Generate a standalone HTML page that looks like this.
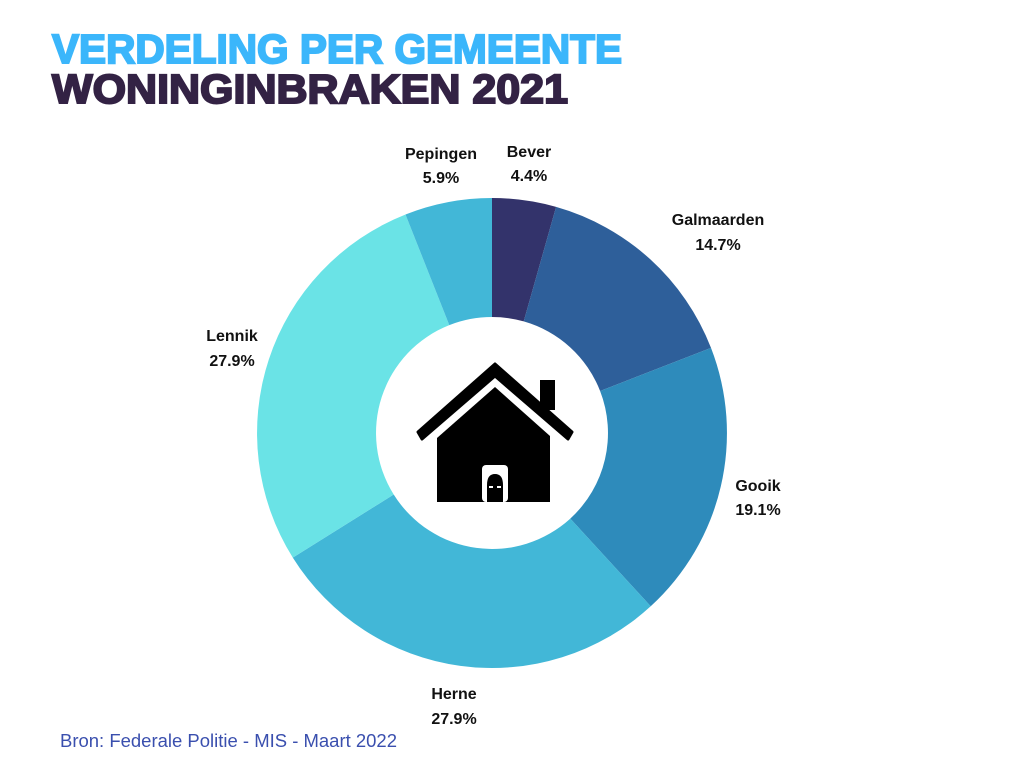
<!DOCTYPE html>
<html><head><meta charset="utf-8"><style>
body{margin:0;background:#fff}
svg{display:block}
text{font-family:"Liberation Sans",sans-serif}
.l{font-size:16px;font-weight:bold;fill:#111;text-anchor:middle}
</style></head><body>
<svg width="1024" height="768" viewBox="0 0 1024 768">
<text x="52" y="63" font-size="41" font-weight="900" fill="#3bb6fb" textLength="570" lengthAdjust="spacingAndGlyphs" stroke="#3bb6fb" stroke-width="2">VERDELING PER GEMEENTE</text>
<text x="52" y="103" font-size="41" font-weight="900" fill="#332244" textLength="516" lengthAdjust="spacingAndGlyphs" stroke="#332244" stroke-width="2">WONINGINBRAKEN 2021</text>
<g>
<path d="M492,198 A235,235 0 0 1 556.1,206.9 L523.7,321.4 A116,116 0 0 0 492,317 Z" fill="#33336b"/>
<path d="M556.1,206.9 A235,235 0 0 1 711,347.9 L600.1,391 A116,116 0 0 0 523.7,321.4 Z" fill="#2e5f9a"/>
<path d="M711,347.9 A235,235 0 0 1 650.7,606.3 L570.3,518.6 A116,116 0 0 0 600.1,391 Z" fill="#2e8bbb"/>
<path d="M650.7,606.3 A235,235 0 0 1 292.8,557.6 L393.7,494.5 A116,116 0 0 0 570.3,518.6 Z" fill="#42b7d7"/>
<path d="M292.8,557.6 A235,235 0 0 1 405.5,214.5 L449.3,325.1 A116,116 0 0 0 393.7,494.5 Z" fill="#6ae3e6"/>
<path d="M405.5,214.5 A235,235 0 0 1 492,198 L492,317 A116,116 0 0 0 449.3,325.1 Z" fill="#42b7d7"/>
</g>
<g fill="#000">
<rect x="540" y="380" width="15" height="30"/>
<path d="M418,432 L495,364 L572,432 L568,439 L495,376 L422,439 Z" stroke="#000" stroke-width="3" stroke-linejoin="round"/>
<path d="M437,438 L495,387 L550,436 L550,502 L437,502 Z"/>
<rect x="482" y="465" width="26" height="37" rx="4" fill="#fff"/>
<path d="M487,502 L487,485 Q487,474 495,474 Q503,474 503,485 L503,502 Z"/>
<rect x="489" y="486" width="4" height="2" fill="#fff"/><rect x="497" y="486" width="4" height="2" fill="#fff"/>
</g>
<text class="l" x="441" y="159">Pepingen</text><text class="l" x="441" y="183">5.9%</text>
<text class="l" x="529" y="157">Bever</text><text class="l" x="529" y="181">4.4%</text>
<text class="l" x="718" y="225">Galmaarden</text><text class="l" x="718" y="250">14.7%</text>
<text class="l" x="232" y="341">Lennik</text><text class="l" x="232" y="366">27.9%</text>
<text class="l" x="758" y="491">Gooik</text><text class="l" x="758" y="515">19.1%</text>
<text class="l" x="454" y="699">Herne</text><text class="l" x="454" y="724">27.9%</text>
<text x="60" y="747" font-size="18" fill="#3a4fae" textLength="337" lengthAdjust="spacingAndGlyphs">Bron: Federale Politie - MIS - Maart 2022</text>
</svg>
</body></html>
